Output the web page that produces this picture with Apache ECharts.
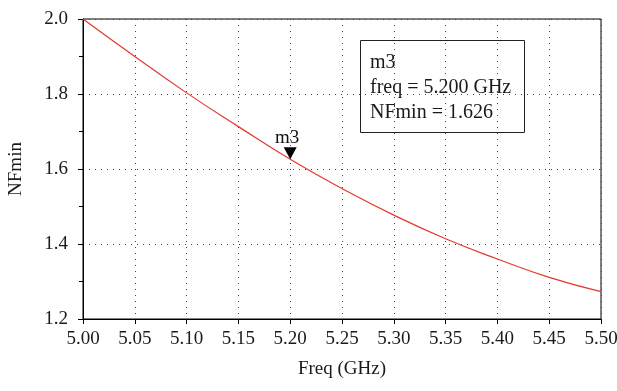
<!DOCTYPE html>
<html><head><meta charset="utf-8">
<script src="https://cdn.jsdelivr.net/npm/echarts@6/dist/echarts.min.js"></script>
<style>html,body{margin:0;padding:0;background:#fff}#c{width:617px;height:391px}</style>
</head><body><div id="c"></div>
<script>
const freq = [5.00, 5.05, 5.10, 5.15, 5.20, 5.25, 5.30, 5.35, 5.40, 5.45, 5.50];
const nfmin = [2.000, 1.900, 1.803, 1.713, 1.626, 1.548, 1.477, 1.414, 1.360, 1.311, 1.273];
const markerFreq = 5.20;
const markerValue = 1.626;
const markerName = 'm3';
const boxLines = ['m3', 'freq = 5.200 GHz', 'NFmin = 1.626'];

const FONT = '"Liberation Serif", "DejaVu Serif", serif';
const TXT = '#1a1a1a';
const chart = echarts.init(document.getElementById('c'), null, {renderer: 'canvas'});
chart.setOption({
  animation: false,
  backgroundColor: '#fff',
  grid: {left: 83, right: 16, top: 19, bottom: 72, outerBoundsMode: 'none', containLabel: false, show: true, borderColor: '#000', borderWidth: 1, backgroundColor: 'transparent'},
  xAxis: {
    type: 'value', min: 5.0, max: 5.5, interval: 0.05,
    name: 'Freq (GHz)', nameLocation: 'middle', nameGap: 41,
    nameTextStyle: {fontFamily: FONT, fontSize: 19, color: TXT},
    axisLine: {show: true, lineStyle: {color: '#000', width: 1}},
    axisTick: {show: true, length: 5, lineStyle: {color: '#000'}},
    axisLabel: {fontFamily: FONT, fontSize: 19, color: TXT, margin: 11, formatter: v => v.toFixed(2)},
    splitLine: {show: true, lineStyle: {color: '#444', type: [1, 5], width: 1}}
  },
  yAxis: {
    type: 'value', min: 1.2, max: 2.0, interval: 0.2,
    name: 'NFmin', nameLocation: 'middle', nameGap: 57, nameRotate: 90,
    nameTextStyle: {fontFamily: FONT, fontSize: 19, color: TXT},
    axisLine: {show: true, lineStyle: {color: '#000', width: 1}},
    axisTick: {show: true, length: 5, lineStyle: {color: '#000'}},
    minorTick: {show: true, splitNumber: 2, length: 4, lineStyle: {color: '#000'}},
    axisLabel: {fontFamily: FONT, fontSize: 19, color: TXT, margin: 15, formatter: v => v.toFixed(1)},
    splitLine: {show: true, lineStyle: {color: '#444', type: [1, 5], width: 1}}
  },
  series: [
    {
      type: 'line', data: freq.map((f, i) => [f, nfmin[i]]), smooth: true,
      showSymbol: false, lineStyle: {color: '#e5382c', width: 1.2}, z: 3
    },
    {
      type: 'scatter', data: [[markerFreq, markerValue]],
      symbol: 'triangle', symbolRotate: 180, symbolSize: [13, 12], symbolOffset: [0, -6],
      itemStyle: {color: '#000', opacity: 1}, z: 4,
      label: {show: true, position: 'top', distance: 0, offset: [-3, 0], formatter: markerName, fontFamily: FONT, fontSize: 19, color: '#111', opacity: 1}
    }
  ],
  graphic: [
    {type: 'rect', left: 360, top: 40, shape: {width: 164, height: 92}, style: {fill: 'transparent', stroke: '#222', lineWidth: 1}, z: 10},
    {type: 'text', left: 370, top: 50, style: {text: boxLines.join('\n'), font: '20px ' + FONT, fill: TXT, lineHeight: 25}, z: 10}
  ]
});
</script></body></html>
